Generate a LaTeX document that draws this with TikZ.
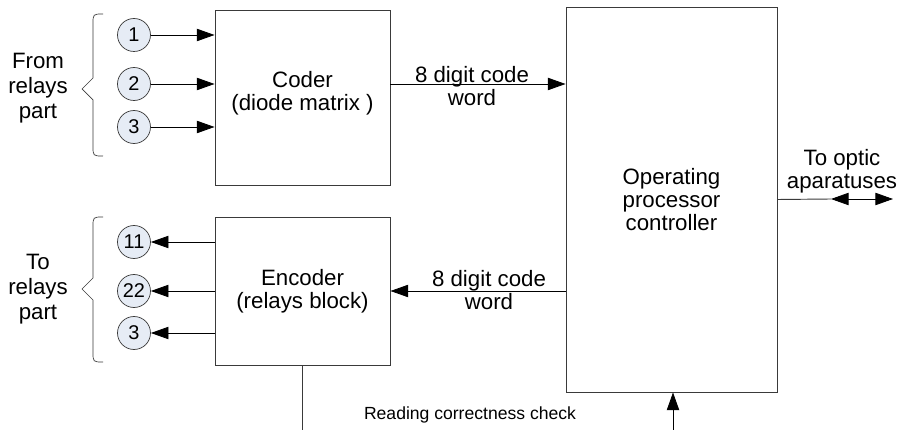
\documentclass[tikz,border=0pt]{standalone}
\usepackage{fontspec}
\setmainfont{Liberation Sans}
\usetikzlibrary{arrows.meta,positioning}
\definecolor{cLine}{HTML}{3A3A3A}
\definecolor{cPin}{HTML}{E6ECF5}
\tikzset{
  blk/.style={rectangle, draw=cLine, line width=0.8pt, fill=white, align=center, inner sep=0pt},
  pin/.style={circle, draw=cLine, line width=0.6pt, fill=cPin, minimum size=0.99cm, inner sep=0pt, font=\fontsize{17}{18}\selectfont},
  sig/.style={-{Triangle[length=15pt, width=10.5pt]}, line width=0.7pt, black},
  wire/.style={line width=0.8pt, cLine},
  brc/.style={line width=0.6pt, cLine},
  lbl/.style={align=center, inner sep=0pt},
}

\begin{document}
\begin{tikzpicture}[x=0.03cm, y=-0.03cm, font=\fontsize{19}{20}\selectfont]
  \useasboundingbox (0,0) rectangle (899,430);
  % blocks
  \node[blk, minimum width=5.25cm, minimum height=5.25cm] (coder) at (302.5,97.5) {};
  \node[lbl] (coderTxt) at (302.5,93) {Coder\\(diode matrix )};
  \node[blk, minimum width=5.25cm, minimum height=4.44cm] (enc) at (302.5,291) {Encoder\\(relays block)};
  \node[blk, minimum width=6.33cm, minimum height=11.55cm] (proc) at (671.5,199.5) {Operating\\processor\\controller};
  % relay pins
  \node[pin] (in1) at (134,35) {1};
  \node[pin] (in2) at (134,84) {2};
  \node[pin] (in3) at (134,127) {3};
  \node[pin] (out1) at (134,242) {11};
  \node[pin] (out2) at (134,291) {22};
  \node[pin] (out3) at (134,333) {3};
  \foreach \p in {in1, in2, in3}
    \draw[sig] (\p) -- (\p -| coder.west);
  \foreach \p in {out1, out2, out3}
    \draw[sig] (\p -| enc.west) -- (\p);
  % braces
  \draw[brc] (103,14) .. controls (93,14) .. (93,24) -- (93,78) -- (82,89) -- (93,100) -- (93,146) .. controls (93,156) .. (103,156);
  \draw[brc] (103,217) .. controls (93,217) .. (93,227) -- (93,278) -- (82,289) -- (93,300) -- (93,352) .. controls (93,362) .. (103,362);
  \node[lbl, font=\fontsize{19}{21.5}\selectfont] (from) at (38,88) {From\\relays\\part};
  \node[lbl, font=\fontsize{19}{21.5}\selectfont] (to) at (38,289) {To\\relays\\part};
  % code words
  \draw[sig] (in2 -| coder.east) -- (in2 -| proc.west);
  \draw[sig] (out2 -| proc.west) -- (out2 -| enc.east);
  \node[lbl] (cwUp) at (472,86) {8 digit code\\word};
  \node[lbl] (cwLo) at (489,290) {8 digit code\\word};
  % optic
  \coordinate (optL) at (831,199);
  \coordinate (optR) at (893,199);
  \draw[wire] (proc.east) -- (optL);
  \draw[{Triangle[length=15pt, width=10.5pt]}-{Triangle[length=15pt, width=10.5pt]}, line width=0.7pt] (optL) -- (optR);
  \node[lbl] (opt) at (842,171) {To optic\\aparatuses};
  % check loop
  \coordinate (chkA) at (302.5,430);
  \coordinate (chkB) at (673,430);
  \draw[wire] (enc.south) -- (chkA);
  \draw[sig] (chkB) -- (chkB |- proc.south);
  \node[font=\fontsize{15}{17}\selectfont] (chk) at (470,415) {Reading correctness check};
\end{tikzpicture}
\end{document}
